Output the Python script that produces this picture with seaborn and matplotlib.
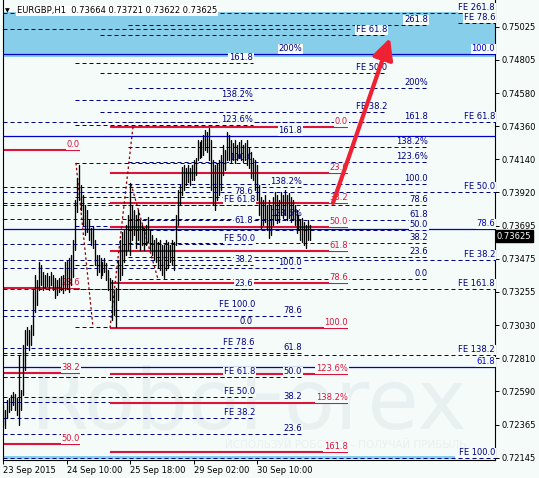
import numpy as np
import pandas as pd
import matplotlib
matplotlib.use("Agg")
import matplotlib.pyplot as plt
import matplotlib.transforms as mtransforms
import seaborn as sns

# ---------------- data ----------------
bar_high = [
    0.72498, 0.72464, 0.72531, 0.72545, 0.72565, 0.72585, 0.72571, 0.72545, 0.72832, 0.72598,
    0.72898, 0.72999, 0.73019, 0.72999, 0.73032, 0.73266, 0.73366, 0.73333, 0.73453, 0.73433,
    0.73386, 0.73366, 0.73379, 0.73359, 0.73386, 0.73366, 0.73346, 0.73333, 0.73346, 0.73359,
    0.73366, 0.73453, 0.73467, 0.73480, 0.73500, 0.73600, 0.73867, 0.74014, 0.74101, 0.73967,
    0.73900, 0.73834, 0.73800, 0.73734, 0.73680, 0.73693, 0.73600, 0.73500, 0.73500, 0.73480,
    0.73453, 0.73480, 0.73446, 0.73399, 0.73346, 0.73333, 0.73266, 0.73279, 0.73467, 0.73600,
    0.73653, 0.73667, 0.73700, 0.73767, 0.73981, 0.73834, 0.73800, 0.73767, 0.73800, 0.73734,
    0.73700, 0.73680, 0.73700, 0.73753, 0.73667, 0.73633, 0.73600, 0.73613, 0.73587, 0.73600,
    0.73567, 0.73567, 0.73600, 0.73587, 0.73567, 0.73600, 0.73587, 0.73767, 0.73934, 0.73967,
    0.74088, 0.74101, 0.74081, 0.74101, 0.74081, 0.74101, 0.74135, 0.74148, 0.74268, 0.74254,
    0.74268, 0.74301, 0.74335, 0.74321, 0.74348, 0.74268, 0.74135, 0.74101, 0.74115, 0.74135,
    0.74168, 0.74234, 0.74201, 0.74321, 0.74301, 0.74268, 0.74248, 0.74268, 0.74234, 0.74254,
    0.74268, 0.74234, 0.74248, 0.74268, 0.74214, 0.74188, 0.74148, 0.74135, 0.74101, 0.73967,
    0.73887, 0.73867, 0.73900, 0.73834, 0.73867, 0.73834, 0.73887, 0.73920, 0.73900, 0.73867,
    0.73920, 0.73900, 0.73934, 0.73900, 0.73914, 0.73887, 0.73867, 0.73834, 0.73800, 0.73767,
    0.73734, 0.73747, 0.73720, 0.73700, 0.73734, 0.73700]
bar_low = [
    0.72364, 0.72344, 0.72411, 0.72451, 0.72464, 0.72498, 0.72464, 0.72431, 0.72364, 0.72464,
    0.72565, 0.72731, 0.72898, 0.72865, 0.72898, 0.72965, 0.73119, 0.73166, 0.73266, 0.73299,
    0.73266, 0.73279, 0.73293, 0.73266, 0.73299, 0.73266, 0.73212, 0.73232, 0.73252, 0.73266,
    0.73246, 0.73266, 0.73279, 0.73252, 0.73299, 0.73353, 0.73533, 0.73787, 0.73867, 0.73800,
    0.73700, 0.73633, 0.73653, 0.73600, 0.73567, 0.73546, 0.73433, 0.73366, 0.73386, 0.73346,
    0.73366, 0.73386, 0.73333, 0.73266, 0.73199, 0.73065, 0.73099, 0.73019, 0.73199, 0.73333,
    0.73366, 0.73453, 0.73500, 0.73533, 0.73500, 0.73600, 0.73633, 0.73546, 0.73600, 0.73533,
    0.73567, 0.73533, 0.73567, 0.73587, 0.73533, 0.73500, 0.73467, 0.73453, 0.73413, 0.73399,
    0.73366, 0.73346, 0.73399, 0.73413, 0.73453, 0.73433, 0.73399, 0.73567, 0.73700, 0.73834,
    0.73900, 0.73934, 0.73967, 0.73987, 0.73967, 0.74001, 0.74001, 0.74034, 0.74135, 0.74148,
    0.74154, 0.74168, 0.74201, 0.74188, 0.74135, 0.73934, 0.73834, 0.73800, 0.73867, 0.73900,
    0.73934, 0.74034, 0.74067, 0.74135, 0.74135, 0.74121, 0.74135, 0.74115, 0.74135, 0.74148,
    0.74135, 0.74121, 0.74135, 0.74101, 0.74081, 0.74014, 0.74001, 0.73934, 0.73867, 0.73767,
    0.73680, 0.73700, 0.73720, 0.73667, 0.73613, 0.73633, 0.73700, 0.73734, 0.73713, 0.73720,
    0.73767, 0.73747, 0.73767, 0.73734, 0.73747, 0.73720, 0.73734, 0.73700, 0.73647, 0.73667,
    0.73600, 0.73587, 0.73567, 0.73546, 0.73600, 0.73600]

price_ticks = [0.75025, 0.74805, 0.74580, 0.74360, 0.74140, 0.73920, 0.73695,
               0.73475, 0.73255, 0.73030, 0.72810, 0.72590, 0.72365, 0.72145]
price_tick_labels = ["0.75025", "0.74805", "0.74580", "0.74360", "0.74140", "0.73920", "0.73695",
                     "0.73475", "0.73255", "0.73030", "0.72810", "0.72590", "0.72365", "0.72145"]
date_tick_bars = [0, 32, 64, 96, 128]
date_tick_labels = ["23 Sep 2015", "24 Sep 10:00", "25 Sep 18:00", "29 Sep 02:00", "30 Sep 10:00"]

title_text = "EURGBP,H1  0.73664 0.73721 0.73622 0.73625"
last_price = 0.73625
last_price_label = "0.73625"

# red Fibonacci retracements
red_mid_levels = [0.74355, 0.74047, 0.73847, 0.73687, 0.73526, 0.73313, 0.73012, 0.72705, 0.72511, 0.72184]
red_mid_labels = ["0.0", "23.6", "38.2", "50.0", "61.8", "78.6", "100.0", "123.6%", "138.2%", "161.8"]
red_mid_span = (53.8, 174.0)
red_left_levels = [0.74201, 0.73279, 0.72711, 0.72237]
red_left_labels = ["0.0", "23.6", "38.2", "50.0"]
red_left_span = (-0.25, 38.6)

# navy dashed Fibonacci retracements
fib_right_levels = [0.75036, 0.74615, 0.74388, 0.74221, 0.74121, 0.73974, 0.73834,
                    0.73734, 0.73667, 0.73580, 0.73486, 0.73339]
fib_right_labels = ["261.8", "200%", "161.8", "138.2%", "123.6%", "100.0", "78.6",
                    "61.8", "50.0", "38.2", "23.6", "0.0"]
fib_right_span = (62.9, 214.4)
fib_mid_levels = [0.74842, 0.74295, 0.73954, 0.73740, 0.73413, 0.73092, 0.72845, 0.72685, 0.72518, 0.72304]
fib_mid_labels = ["200%", "161.8", "138.2%", "123.6%", "100.0", "78.6", "61.8", "50.0", "38.2", "23.6"]
fib_mid_span = (-0.25, 150.8)
fib_left_levels = [0.74782, 0.74535, 0.74368, 0.74115, 0.73887, 0.73693, 0.73433, 0.73272, 0.73019]
fib_left_labels = ["161.8", "138.2%", "123.6%", "100.0", "78.6", "61.8", "38.2", "23.6", "0.0"]
fib_left_span = (36.1, 126.0)

# Fibonacci expansions
fe_left_levels = [0.73834, 0.73573, 0.73132, 0.72878, 0.72685, 0.72551, 0.72411]
fe_left_labels = ["FE 61.8", "FE 50.0", "FE 100.0", "FE 78.6", "FE 61.8", "FE 50.0", "FE 38.2"]
fe_left_span = (-0.25, 127.0)
fe_mid_levels = [0.74969, 0.74715, 0.74455]
fe_mid_labels = ["FE 61.8", "FE 50.0", "FE 38.2"]
fe_mid_span = (48.7, 193.7)
fe_right_levels = [0.75116, 0.75049, 0.74388, 0.73920, 0.73466, 0.73272, 0.72832, 0.72143]
fe_right_labels = ["FE 261.8", "FE 78.6", "FE 61.8", "FE 50.0", "FE 38.2", "FE 161.8", "FE 138.2", "FE 100.0"]
fe_right_starts = [-0.25, 229.5, -0.25, -0.25, -0.25, -0.25, -0.25, -0.25]
fe_right_end = 248.25

extra_dashed_levels = [0.75009, 0.73847]
extra_dashed_ends = [175.0, 135.0]

blue_levels = [0.74842, 0.74295, 0.73673, 0.72751]
blue_labels = ["100.0", "", "78.6", "61.8"]

band_top, band_bottom = 0.75123, 0.74822
strip_top, strip_bottom, strip_end = 0.72157, 0.72137, 228.0

trend_x = [(36.6, 45.2), (53.8, 65.4), (64.4, 78.0)]
trend_y = [(0.74115, 0.73019), (0.73012, 0.74355), (0.73974, 0.73339)]

arrow_start = (166.4, 0.73847)
arrow_end = (195.2, 0.74949)

# ---------------- style ----------------
sns.set_theme(style="white")
plt.rcParams["font.family"] = ["DejaVu Sans"]
BG = "#F4FBF9"
NAVY = "#000080"
RED = "#DC143C"
BLUE = "#0000CD"
FS = 6.0

W, H = 539, 478
fig = plt.figure(figsize=(W / 100, H / 100), dpi=100, facecolor=BG)
ax = fig.add_axes([3 / W, (H - 460) / H, 492 / W, 460 / H])
ax.set_facecolor(BG)
ax.set_xlim(-0.25, 248.25)
ax.set_ylim(0.72130, 0.75203)

# bands
ax.axhspan(band_bottom, band_top, color="#87CEEB", zorder=0.2, lw=0)
ax.fill_between([-0.25, strip_end], strip_bottom, strip_top, color="#87CEEB", zorder=0.2, lw=0)

# watermark
ax.text(124, 0.72498, "RoboForex", fontsize=60, color="#E9F0F0", ha="center", va="center", zorder=0.3)
ax.text(173, 0.72230, "ИСПОЛЬЗУЙ РОБОТОВ – ПОЛУЧАЙ ПРИБЫЛЬ", fontsize=7.5, color="#E9F0F0",
        ha="center", va="center", zorder=0.3)

label_tr = mtransforms.offset_copy(ax.transData, fig=fig, x=0, y=0.5, units="points")
bbox = dict(facecolor=BG, edgecolor="none", boxstyle="square,pad=0.08")


def draw_levels(levels, x0s, x1, labels, color, ls, lw, z, lab_color=None):
    if np.isscalar(x0s):
        x0s = [x0s] * len(levels)
    for lev, x0, lab in zip(levels, x0s, labels):
        ax.plot([x0, x1], [lev, lev], color=color, ls=ls, lw=lw, zorder=z, solid_capstyle="butt")
        if lab:
            ax.text(x1, lev, lab, ha="right", va="bottom", fontsize=FS,
                    color=lab_color or color, transform=label_tr, bbox=bbox, zorder=2.8)


dash = (0, (4, 3))
for lev, xe in zip(extra_dashed_levels, extra_dashed_ends):
    ax.plot([-0.25, xe], [lev, lev], color=NAVY, ls=dash, lw=0.72, zorder=1)
draw_levels(fe_right_levels, fe_right_starts, fe_right_end, fe_right_labels, NAVY, dash, 0.72, 1)
draw_levels(fib_right_levels, fib_right_span[0], fib_right_span[1], fib_right_labels, NAVY, dash, 0.72, 1)
draw_levels(fib_mid_levels, fib_mid_span[0], fib_mid_span[1], fib_mid_labels, NAVY, dash, 0.72, 1)
draw_levels(fib_left_levels, fib_left_span[0], fib_left_span[1], fib_left_labels, NAVY, dash, 0.72, 1)
draw_levels(fe_left_levels, fe_left_span[0], fe_left_span[1], fe_left_labels, NAVY, dash, 0.72, 1)
draw_levels(fe_mid_levels, fe_mid_span[0], fe_mid_span[1], fe_mid_labels, NAVY, dash, 0.72, 1)
draw_levels(blue_levels, -0.25, 248.25, blue_labels, BLUE, "-", 0.9, 1.5)
draw_levels(red_mid_levels, red_mid_span[0], red_mid_span[1], red_mid_labels, RED, "-", 1.5, 2)
draw_levels(red_left_levels, red_left_span[0], red_left_span[1], red_left_labels, RED, "-", 1.5, 2)

for (xa, xb), (ya, yb) in zip(trend_x, trend_y):
    ax.plot([xa, xb], [ya, yb], color="#8B0000", ls=(0, (2, 2)), lw=0.9, zorder=2.5)

# price bars via seaborn
n = len(bar_high)
bars = pd.DataFrame({
    "bar": np.repeat(np.arange(n), 2),
    "price": np.ravel(np.column_stack([bar_low, bar_high])),
})
sns.lineplot(data=bars, x="bar", y="price", units="bar", estimator=None, sort=False,
             color="black", lw=0.95, ax=ax, legend=False, zorder=3)

# arrow
ax.annotate("", xy=arrow_end, xytext=arrow_start,
            arrowprops=dict(arrowstyle="-|>,head_length=0.9,head_width=0.45", lw=3.0,
                            color="#EE2233", shrinkA=0, shrinkB=0, mutation_scale=14), zorder=5)

# axes styling
ax.set_xlabel("")
ax.set_ylabel("")
for s in ["left", "right", "bottom"]:
    ax.spines[s].set_visible(True)
    ax.spines[s].set_color("black")
    ax.spines[s].set_linewidth(0.8)
ax.spines["top"].set_visible(False)
ax.yaxis.tick_right()
ax.set_yticks(price_ticks)
ax.set_yticklabels(price_tick_labels)
ax.set_xticks(date_tick_bars)
ax.set_xticklabels(date_tick_labels)
ax.tick_params(axis="y", which="both", right=True, left=False, direction="out", length=3,
               width=0.7, color="black", labelsize=FS, pad=1.5, labelcolor="black")
ax.tick_params(axis="x", which="both", bottom=True, direction="out", length=3, width=0.7,
               color="black", labelsize=FS, pad=1.5, labelcolor="black")
for lbl in ax.get_xticklabels():
    lbl.set_horizontalalignment("left")
ax.grid(False)

# current price tag
tr = mtransforms.blended_transform_factory(ax.transAxes, ax.transData)
ax.text(1.004, last_price, last_price_label, transform=tr, ha="left", va="center", fontsize=FS,
        color="white", bbox=dict(facecolor="black", edgecolor="black", boxstyle="square,pad=0.15"),
        zorder=6, clip_on=False)

# title
fig.text(5 / W, 1 - 11 / H, "▼", fontsize=4.5, color="black", ha="left", va="center")
fig.text(17 / W, 1 - 11 / H, title_text, fontsize=FS, color="black", ha="left", va="center",
         bbox=dict(facecolor="white", edgecolor="none", boxstyle="square,pad=0.1"))

fig.savefig("out.png", dpi=100, facecolor=BG)
